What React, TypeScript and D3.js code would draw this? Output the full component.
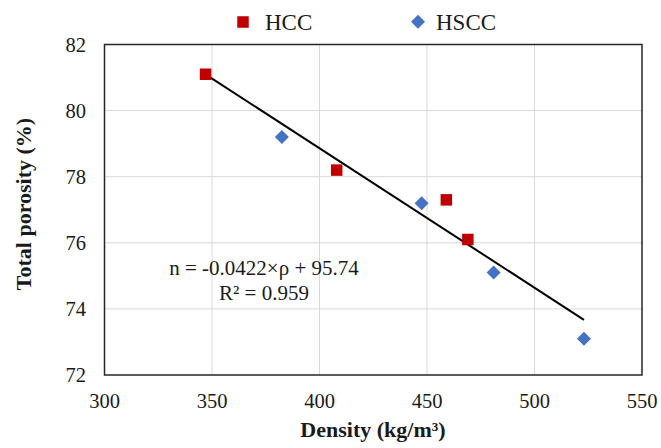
import React from "react";
import * as d3 from "d3";

const hccDensity = [347, 408, 459, 469];
const hccPorosity = [81.1, 78.2, 77.3, 76.1];
const hsccDensity = [382.5, 447.5, 481, 523];
const hsccPorosity = [79.2, 77.2, 75.1, 73.1];
const xTicks = [300, 350, 400, 450, 500, 550];
const yTicks = [72, 74, 76, 78, 80, 82];
const fitSlope = -0.0422;
const fitIntercept = 95.74;
const fitRange = [347, 523];
const seriesNames = ["HCC", "HSCC"];
const eqLines = ["n = -0.0422×ρ + 95.74", "R² = 0.959"];

export default function App() {
  const W = 661, H = 448;
  const m = { l: 104.5, r: 642, t: 44.5, b: 375 };
  const x = d3.scaleLinear().domain([300, 550]).range([m.l, m.r]);
  const y = d3.scaleLinear().domain([72, 82]).range([m.b, m.t]);
  const font = "'Liberation Serif', 'Times New Roman', serif";
  const hcc = hccDensity.map((d, i) => [d, hccPorosity[i]]);
  const hscc = hsccDensity.map((d, i) => [d, hsccPorosity[i]]);
  const line = d3.line<number>().x((d) => x(d)).y((d) => y(fitSlope * d + fitIntercept));
  const sq = 11.5;
  const dm = 7;
  const diamond = (cx: number, cy: number) =>
    `M${cx},${cy - dm}L${cx + dm},${cy}L${cx},${cy + dm}L${cx - dm},${cy}Z`;
  return (
    <svg width={W} height={H} style={{ position: "absolute", left: 0, top: 0, background: "#fff" }}>
      <rect x={0} y={0} width={W} height={H} fill="#fff" />
      {xTicks.slice(1, -1).map((t) => (
        <line key={"gx" + t} x1={x(t)} x2={x(t)} y1={m.t} y2={m.b} stroke="#d9d9d9" strokeWidth={1} />
      ))}
      {yTicks.slice(1, -1).map((t) => (
        <line key={"gy" + t} x1={m.l} x2={m.r} y1={y(t)} y2={y(t)} stroke="#d9d9d9" strokeWidth={1} />
      ))}
      <rect x={m.l} y={m.t} width={m.r - m.l} height={m.b - m.t} fill="none" stroke="#262626" strokeWidth={1.5} />
      {xTicks.map((t) => (
        <text key={"xt" + t} x={x(t)} y={408} textAnchor="middle" fontFamily={font} fontSize={20.5} fill="#1a1a1a">
          {t}
        </text>
      ))}
      {yTicks.map((t) => (
        <text key={"yt" + t} x={86} y={y(t) + 7} textAnchor="end" fontFamily={font} fontSize={20.5} fill="#1a1a1a">
          {t}
        </text>
      ))}
      <path d={line(fitRange) || ""} stroke="#000" strokeWidth={2} fill="none" />
      {hcc.map(([d, p], i) => (
        <rect key={"h" + i} x={x(d) - sq / 2} y={y(p) - sq / 2} width={sq} height={sq} fill="#c00000" />
      ))}
      {hscc.map(([d, p], i) => (
        <path key={"s" + i} d={diamond(x(d), y(p))} fill="#4472c4" />
      ))}
      {eqLines.map((s, i) => (
        <text key={"eq" + i} x={264} y={275 + i * 25} textAnchor="middle" fontFamily={font} fontSize={21} fill="#1a1a1a">
          {s}
        </text>
      ))}
      <rect x={243 - sq / 2} y={22 - sq / 2} width={sq} height={sq} fill="#c00000" />
      <text x={265} y={30} fontFamily={font} fontSize={23} fill="#1a1a1a">{seriesNames[0]}</text>
      <path d={diamond(418, 21.7)} fill="#4472c4" />
      <text x={436} y={30} fontFamily={font} fontSize={23} fill="#1a1a1a">{seriesNames[1]}</text>
      <text x={373} y={437} textAnchor="middle" fontFamily={font} fontSize={22} fontWeight="bold" fill="#1a1a1a">
        Density (kg/m³)
      </text>
      <text
        transform={`translate(31,204) rotate(-90)`}
        textAnchor="middle"
        fontFamily={font}
        fontSize={22}
        fontWeight="bold"
        fill="#1a1a1a"
      >
        Total porosity (%)
      </text>
    </svg>
  );
}
